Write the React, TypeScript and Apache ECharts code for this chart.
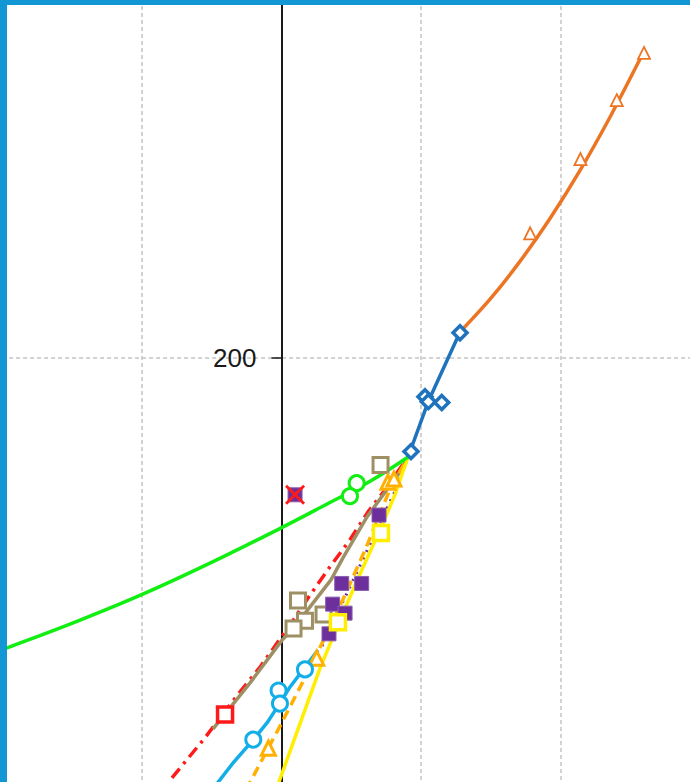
import React, { useEffect, useRef } from "react";
import * as echarts from "echarts";

// ---- data (x in axis units, y in axis units) ----
const yTickLabels = ["200"];

const orangeFit = [[12.78, 205.78], [14.93, 213.07], [17.07, 221.47], [19.22, 231.0], [21.37, 241.69], [23.51, 253.51], [25.81, 267.33]];
const orangeTriangles = [[17.8, 227.7], [21.4, 244.2], [24.0, 257.3], [25.95, 267.8]];

const blueLine = [[9.06, 178.0], [10.49, 190.2], [12.78, 205.78]];
const blueDiamonds = [[9.27, 179.2], [10.27, 191.4], [10.51, 190.3], [11.47, 190.1], [12.78, 205.6]];

const greenLine = [[-20, 135.2], [-19.65, 135.56], [-14.78, 141.3], [-10.01, 147.4], [-5.12, 154.4], [0.01, 162.3], [3.47, 167.9], [6.34, 172.6], [9.06, 178.0]];
const greenCircles = [[5.38, 172.2], [4.9, 169.3]];

const redLine = [[-7.84, 106.7], [-5.48, 115.6], [-4.19, 120.9], [-2.97, 125.8], [-1.54, 131.3], [0.75, 141.3], [2.04, 147.3], [3.47, 153.6], [4.9, 159.6], [6.19, 165.8], [7.41, 170.7], [9.06, 178.0]];
const redSquares = [[-4.04, 120.8]];
const redCross = [[0.97, 169.6]];

const brownLine = [[-4.9, 117.6], [-2.25, 127.8], [0.04, 137.3], [0.82, 139.8], [3.54, 150.7], [4.4, 155.6], [6.12, 164.7], [8.48, 174.7], [9.06, 178.0]];
const brownSquares = [[1.18, 146.1], [1.68, 141.6], [0.86, 139.9], [3.01, 143.0], [7.09, 176.2]];

const purpleLine = [[2.9, 136.0], [8.13, 170.4], [9.06, 178.0]];
const purpleSquares = [[4.31, 149.9], [5.74, 149.9], [3.66, 145.3], [4.55, 143.3], [3.4, 138.7], [6.98, 165.1], [0.97, 169.6]];

const amberLine = [[-2.54, 104.0], [-0.11, 118.2], [2.04, 131.1], [4.19, 144.9], [5.98, 157.3], [7.77, 170.9], [9.06, 178.0]];
const amberTriangles = [[-0.94, 113.3], [2.52, 133.3], [7.62, 172.4], [8.05, 173.1]];

const yellowLine = [[-0.39, 104.0], [1.32, 118.7], [2.76, 131.1], [4.19, 141.8], [5.62, 152.0], [7.05, 161.8], [8.12, 169.6], [9.06, 178.0]];
const yellowSquares = [[7.12, 161.1], [4.04, 141.3]];

const cyanLine = [[-4.97, 104.0], [-3.47, 110.0], [-2.04, 115.1], [-1.04, 118.9], [-0.11, 123.3], [0.61, 126.9], [1.54, 130.7], [2.61, 135.1]];
const cyanCircles = [[-2.02, 115.2], [-0.21, 126.1], [-0.11, 123.2], [1.68, 130.8]];

const C = {
  orange: "#ec7524",
  blue: "#1f73bd",
  green: "#11ee11",
  red: "#ff1a1a",
  brown: "#9e9064",
  purple: "#6d2f9c",
  amber: "#ffb000",
  yellow: "#ffee00",
  cyan: "#13aee8",
  border: "#1296d4",
};

const X_PATH = "path://M0,1L1,0L5,4L9,0L10,1L6,5L10,9L9,10L5,6L1,10L0,9L4,5Z";

function lineSeries(data: number[][], color: string, extra: any = {}) {
  return {
    type: "line",
    data,
    showSymbol: false,
    symbol: "none",
    lineStyle: { color, width: 3.5, ...(extra.lineStyle || {}) },
    smooth: extra.smooth ?? false,
    z: extra.z ?? 2,
    silent: true,
  };
}

function markerSeries(data: number[][], symbol: string, size: number, stroke: string, fill: string, bw: number, z = 5) {
  return {
    type: "scatter",
    data,
    symbol,
    symbolSize: size,
    itemStyle: { color: fill, borderColor: stroke, borderWidth: bw, opacity: 1 },
    z,
    silent: true,
  };
}

export default function App() {
  const ref = useRef<HTMLDivElement>(null);
  useEffect(() => {
    if (!ref.current) return;
    const chart = echarts.init(ref.current, undefined, { renderer: "svg" });
    const option: any = {
      animation: false,
      backgroundColor: "#ffffff",
      grid: {
        left: 2.1,
        top: -92,
        width: 698.5,
        height: 900,
        containLabel: false,
        outerBoundsMode: "none",
      },
      xAxis: {
        type: "value",
        min: -20,
        max: 30,
        interval: 10,
        axisLine: { show: false },
        axisTick: { show: false },
        axisLabel: { show: false },
        splitLine: { show: true, lineStyle: { color: "#c4c4c4", width: 1.5, type: [4, 3] } },
      },
      yAxis: {
        type: "value",
        min: 100,
        max: 300,
        interval: 100,
        position: "left",
        offset: -279.4,
        axisLine: { show: true, onZero: false, lineStyle: { color: "#1a1a1a", width: 2 } },
        axisTick: { show: true, length: 10, lineStyle: { color: "#1a1a1a", width: 1.5 } },
        axisLabel: {
          show: true,
          margin: 25,
          fontSize: 26,
          color: "#1a1a1a",
          fontFamily: "Liberation Sans, Arial, sans-serif",
          formatter: (v: number) => (yTickLabels.includes(String(v)) ? String(v) : ""),
        },
        splitLine: { show: true, lineStyle: { color: "#c4c4c4", width: 1.5, type: [4, 3] } },
      },
      graphic: [
        { type: "rect", z: 100, shape: { x: 0, y: 0, width: 7, height: 782 }, style: { fill: C.border } },
        { type: "rect", z: 100, shape: { x: 0, y: 0, width: 690, height: 5 }, style: { fill: C.border } },
      ],
      series: [
        lineSeries(redLine, C.red, { lineStyle: { type: [12, 6, 3, 6] } }),
        lineSeries(brownLine, C.brown),
        lineSeries(purpleLine, C.purple, { lineStyle: { type: [2, 6], width: 3 } }),
        lineSeries(amberLine, C.amber, { lineStyle: { type: [10, 6] } }),
        lineSeries(yellowLine, C.yellow),
        lineSeries(cyanLine, C.cyan),
        lineSeries(greenLine, C.green, { smooth: 0.4 }),
        lineSeries(blueLine, C.blue, { z: 3 }),
        lineSeries(orangeFit, C.orange, { smooth: 0.3, z: 3 }),
        markerSeries(redSquares, "rect", 15, C.red, "#ffffff", 3.5),
        markerSeries(brownSquares, "rect", 15, C.brown, "#ffffff", 3),
        markerSeries(purpleSquares, "rect", 14, "#8a5cb0", C.purple, 1),
        markerSeries(amberTriangles, "triangle", 14, C.amber, "#ffffff", 3),
        markerSeries(yellowSquares, "rect", 15, C.yellow, "#ffffff", 3.5),
        markerSeries(cyanCircles, "circle", 15, C.cyan, "#ffffff", 3),
        markerSeries(greenCircles, "circle", 15, C.green, "#ffffff", 3),
        markerSeries(blueDiamonds, "diamond", 14, C.blue, "#ffffff", 3.5, 6),
        markerSeries(orangeTriangles, "triangle", 12, C.orange, "#ffffff", 1.8, 6),
        markerSeries(redCross, X_PATH, 20, C.red, C.red, 0, 7),
      ],
    };
    chart.setOption(option);
    return () => chart.dispose();
  }, []);
  return (
    <div
      ref={ref}
      style={{ position: "absolute", left: 0, top: 0, width: 690, height: 782, background: "#fff" }}
    />
  );
}
